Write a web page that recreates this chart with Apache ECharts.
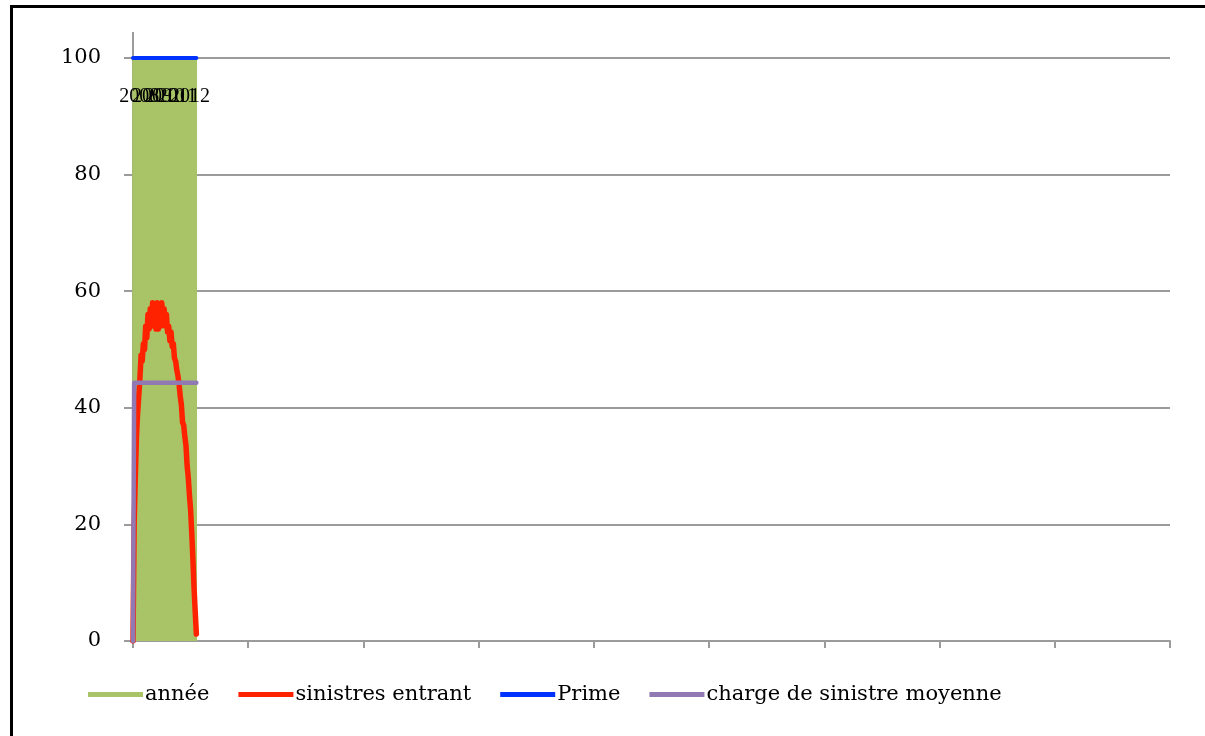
<!DOCTYPE html>
<html>
<head>
<meta charset="utf-8">
<script src="https://cdn.jsdelivr.net/npm/echarts@6/dist/echarts.min.js"></script>
<style>
  html, body { margin: 0; padding: 0; background: #fff; }
  #chart { position: absolute; left: 0; top: 0; width: 1205px; height: 736px; }
  #frame {
    position: absolute; left: 10px; top: 5px; width: 1300px; height: 800px;
    border-top: 3px solid #000; border-left: 3px solid #000; pointer-events: none;
  }
</style>
</head>
<body>
<div id="chart"></div>
<div id="frame"></div>
<script>
// Row index of each observation along the horizontal axis
const rows = [0,1,2,3,4,5,6,7,8,9,10,11,12,13,14,15,16,17,18,19,20,21,22,23,24,25,26,27,
  28,29,30,31,32,33,34,35,36,37,38,39,40,41,42,43,44,45,46,47,48,49,50,51,52,53,54,55];

// Incoming claims per row
const sinistresEntrant = [0,20,28,35,39,42,45,49,48,51,50,54,52,56,53.5,57,54,58,54.5,57.5,
  53.5,58,53.5,57.5,54,58,54.5,57,54,56,53,54,51.5,53,50.5,51,48.5,48,46.5,45.5,44,42,40.5,
  37.5,37,35,33.5,30,28,25,22.5,18.5,14,9,5,1.2];

// Premium per row
const prime = [100,100,100,100,100,100,100,100,100,100,100,100,100,100,100,100,100,100,100,100,
  100,100,100,100,100,100,100,100,100,100,100,100,100,100,100,100,100,100,100,100,100,100,100,
  100,100,100,100,100,100,100,100,100,100,100,100,100];

// Average claim charge per row
const chargeMoyenne = [0,44.3,44.3,44.3,44.3,44.3,44.3,44.3,44.3,44.3,44.3,44.3,44.3,44.3,44.3,
  44.3,44.3,44.3,44.3,44.3,44.3,44.3,44.3,44.3,44.3,44.3,44.3,44.3,44.3,44.3,44.3,44.3,44.3,
  44.3,44.3,44.3,44.3,44.3,44.3,44.3,44.3,44.3,44.3,44.3,44.3,44.3,44.3,44.3,44.3,44.3,44.3,
  44.3,44.3,44.3,44.3,44.3];

// Year columns (centre position on the row axis, and year value)
const anneePos = [5.5, 16.5, 27.5, 38.5, 49.5];
const annee = [2008, 2009, 2010, 2011, 2012];

const seriesNames = ['année', 'sinistres entrant', 'Prime', 'charge de sinistre moyenne'];
const colors = ['#A9C467', '#FF2200', '#0033FF', '#9179B3'];

const pairs = (xs, ys) => ys.map((v, i) => [xs[i], v]);

const FONT = 'DejaVu Serif';
const GRAY = '#9b9b9b';

const chart = echarts.init(document.getElementById('chart'), null, { renderer: 'canvas' });

function lineSeries(idx, values, width) {
  return {
    name: seriesNames[idx], type: 'line', symbol: 'none', clip: true,
    data: pairs(rows, values),
    itemStyle: { color: colors[idx] },
    lineStyle: { color: colors[idx], width: width, cap: 'round', join: 'round' }
  };
}

chart.setOption({
  animation: false,
  backgroundColor: '#fff',
  color: colors,
  grid: { left: 133, right: 35, top: 58, bottom: 95, containLabel: false },
  legend: {
    left: 83, top: 679,
    icon: 'rect', itemWidth: 55, itemHeight: 5, itemGap: 29,
    data: seriesNames,
    textStyle: { fontFamily: FONT, fontSize: 21, color: '#000', padding: [0, 0, 0, -3] }
  },
  xAxis: {
    type: 'value', min: 0, max: 900, interval: 100,
    axisLine: { show: true, lineStyle: { color: GRAY, width: 2 } },
    axisTick: { show: true, length: 7, lineStyle: { color: GRAY, width: 2 } },
    axisLabel: { show: false },
    splitLine: { show: false }
  },
  yAxis: {
    type: 'value', min: 0, max: 100, interval: 20,
    axisLine: { show: true, lineStyle: { color: GRAY, width: 2 } },
    axisTick: { show: true, length: 9, lineStyle: { color: GRAY, width: 2 } },
    axisLabel: { margin: 32, fontFamily: FONT, fontSize: 21, color: '#000' },
    splitLine: { show: true, lineStyle: { color: GRAY, width: 2 } }
  },
  series: [
    {
      name: seriesNames[0], type: 'bar', barWidth: 14, clip: true,
      data: pairs(anneePos, annee),
      itemStyle: { color: colors[0] },
      label: {
        show: true, position: 'insideTop', distance: 29,
        fontFamily: 'Liberation Serif', fontSize: 20, color: '#000'
      }
    },
    lineSeries(1, sinistresEntrant, 5.5),
    lineSeries(2, prime, 4),
    lineSeries(3, chargeMoyenne, 4.5)
  ]
});

// Value axis line continues a little above the top gridline
const axisX = chart.convertToPixel({ gridIndex: 0 }, [0, 100]);
chart.setOption({
  graphic: [{
    type: 'line', silent: true, z: 1,
    shape: { x1: axisX[0], y1: axisX[1] - 26, x2: axisX[0], y2: axisX[1] },
    style: { stroke: GRAY, lineWidth: 2 }
  }]
});
</script>
</body>
</html>
